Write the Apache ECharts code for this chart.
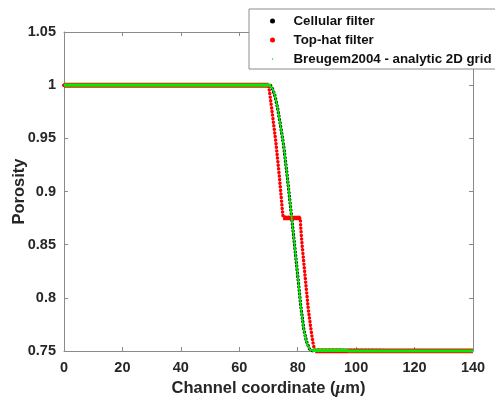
<!DOCTYPE html>
<html>
<head>
<meta charset="utf-8">
<script src="https://cdn.jsdelivr.net/npm/echarts@6/dist/echarts.min.js"></script>
<style>
html,body{margin:0;padding:0;background:#fff;}
#c{width:495px;height:403px;}
</style>
</head>
<body>
<div id="c"></div>
<script>
// ---- data ----
const seriesNames = ['Cellular filter', 'Top-hat filter', 'Breugem2004 - analytic 2D grid'];
const xTicks = [0, 20, 40, 60, 80, 100, 120, 140];
const yTicks = [0.75, 0.8, 0.85, 0.9, 0.95, 1, 1.05];

// Cellular filter (black dots)
const cellular = [
  [0, 1], [70.6, 1], [71.5, 0.996], [72.3, 0.989], [73.2, 0.977], [74.1, 0.962],
  [75.1, 0.945], [76.4, 0.915], [77.6, 0.884], [78.8, 0.853], [80.0, 0.821],
  [81.1, 0.791], [82.1, 0.770], [83.0, 0.759], [84.0, 0.752], [85.0, 0.7503],
  [85.4, 0.75], [140, 0.75]
];
// Top-hat filter (red dots): sloped parts
const topHat = [
  [0, 1], [70.0, 1], [70.4, 0.993], [71.1, 0.978], [72.5, 0.947], [73.7, 0.915],
  [74.7, 0.884], [75.0, 0.876], [80.9, 0.875], [81.0, 0.868], [81.4, 0.853],
  [82.5, 0.821], [83.6, 0.790], [84.8, 0.765], [85.4, 0.755], [85.8, 0.751],
  [86.0, 0.75], [140, 0.75]
];
// Top-hat filter: densely dotted flat stretches (appear solid)
const topHatFlat1 = [[0, 1], [70.0, 1]];
const topHatFlat2 = [[75.0, 0.875], [80.9, 0.875]];
const topHatFlat3 = [[86.0, 0.75], [140, 0.75]];
// Breugem2004 analytic (green): sloped part and flat parts
const breugem = [
  [70.4, 1], [71.5, 0.996], [72.3, 0.989], [73.2, 0.977], [74.1, 0.962],
  [75.1, 0.945], [76.4, 0.915], [77.6, 0.884], [78.8, 0.853], [80.0, 0.821],
  [81.1, 0.791], [82.1, 0.770], [83.0, 0.759], [84.0, 0.752], [85.0, 0.7506],
  [85.6, 0.7505]
];
const breugemFlat1 = [[0, 1], [70.8, 1]];
const breugemFlat2 = [[85.0, 0.7505], [97.2, 0.7505]];
const breugemFlat3 = [[97.2, 0.7499], [140, 0.7499]];

const FONT = 'Liberation Sans, Arial, sans-serif';
const AX = '#8a8a8a';
const TXT = '#262626';
const GREEN = '#00ee00';

const chart = echarts.init(document.getElementById('c'), null, {renderer: 'canvas'});

const baseX = {
  type: 'value', min: xTicks[0], max: xTicks[xTicks.length - 1], interval: 20,
  splitLine: {show: false},
  axisLine: {show: true, onZero: false, lineStyle: {color: AX, width: 1}},
  axisTick: {show: true, inside: true, length: 4, lineStyle: {color: AX}}
};
const baseY = {
  type: 'value', min: yTicks[0], max: yTicks[yTicks.length - 1], interval: 0.05,
  splitLine: {show: false},
  axisLine: {show: true, onZero: false, lineStyle: {color: AX, width: 1}},
  axisTick: {show: true, inside: true, length: 4, lineStyle: {color: AX}}
};

const dotted = (color, w, gap) => ({color: color, width: w, type: [0.01, gap], cap: 'round'});
const flat = (data, color, w, z) => ({type: 'line', data: data, showSymbol: false, symbol: 'none',
  lineStyle: {color: color, width: w}, z: z});

const option = {
  animation: false,
  backgroundColor: '#fff',
  grid: {left: 64, right: 22, top: 32, bottom: 52, containLabel: false, outerBoundsMode: 'none'},
  legend: {
    left: 249, top: 9,
    orient: 'vertical',
    padding: [5, 12, 3, 21],
    itemWidth: 32, itemHeight: 5, itemGap: 5,
    backgroundColor: '#fff',
    borderColor: '#8c8c8c', borderWidth: 1,
    textStyle: {fontFamily: FONT, fontWeight: 'bold', fontSize: 13.3, color: '#111', lineHeight: 14},
    data: [
      {name: seriesNames[0], icon: 'circle', itemStyle: {color: '#000'}},
      {name: seriesNames[1], icon: 'circle', itemStyle: {color: '#ff0000'}},
      {name: seriesNames[2], icon: 'path://M0 0L0.01 0M10 10L10.01 10M5 3.5A1.5 1.5 0 1 1 5 6.5A1.5 1.5 0 1 1 5 3.5Z', itemStyle: {color: '#00e000'}}
    ]
  },
  xAxis: [
    Object.assign({}, baseX, {
      position: 'bottom',
      name: 'Channel coordinate ({i|μ}m)',
      nameLocation: 'middle', nameGap: 22,
      nameTextStyle: {fontFamily: FONT, fontWeight: 'bold', fontSize: 16.5, color: TXT,
        rich: {i: {fontFamily: 'Liberation Serif, serif', fontStyle: 'italic', fontSize: 17.5, color: TXT}}},
      axisLabel: {fontFamily: FONT, fontWeight: 'bold', fontSize: 14.5, color: TXT, margin: 9}
    }),
    Object.assign({}, baseX, {position: 'top', axisLabel: {show: false}})
  ],
  yAxis: [
    Object.assign({}, baseY, {
      position: 'left',
      name: 'Porosity', nameLocation: 'middle', nameGap: 36, nameMoveOverlap: false,
      nameTextStyle: {fontFamily: FONT, fontWeight: 'bold', fontSize: 16.5, color: TXT},
      axisLabel: {fontFamily: FONT, fontWeight: 'bold', fontSize: 14.5, color: TXT, margin: 8}
    }),
    Object.assign({}, baseY, {position: 'right', axisLabel: {show: false}})
  ],
  series: [
    {name: seriesNames[0], type: 'line', data: cellular, showSymbol: false, symbol: 'none',
      itemStyle: {color: '#000'}, lineStyle: dotted('#000', 3.4, 3.5), z: 2},
    {name: seriesNames[1], type: 'line', data: topHat, showSymbol: false, symbol: 'none',
      itemStyle: {color: '#ff0000'}, lineStyle: dotted('#ff0000', 3.5, 3.6), z: 3},
    flat(topHatFlat1, '#ff0000', 5, 3),
    flat(topHatFlat2, '#ff0000', 4.5, 3),
    flat(topHatFlat3, '#ff0000', 5, 3),
    {name: seriesNames[2], type: 'line', data: breugem, showSymbol: false, symbol: 'none', smooth: 0.2,
      itemStyle: {color: '#00e000'}, lineStyle: {color: GREEN, width: 1.8}, z: 4},
    flat(breugemFlat1, GREEN, 3.2, 4),
    flat(breugemFlat2, GREEN, 3.2, 4),
    flat(breugemFlat3, GREEN, 3.2, 4)
  ]
};
chart.setOption(option);
</script>
</body>
</html>
